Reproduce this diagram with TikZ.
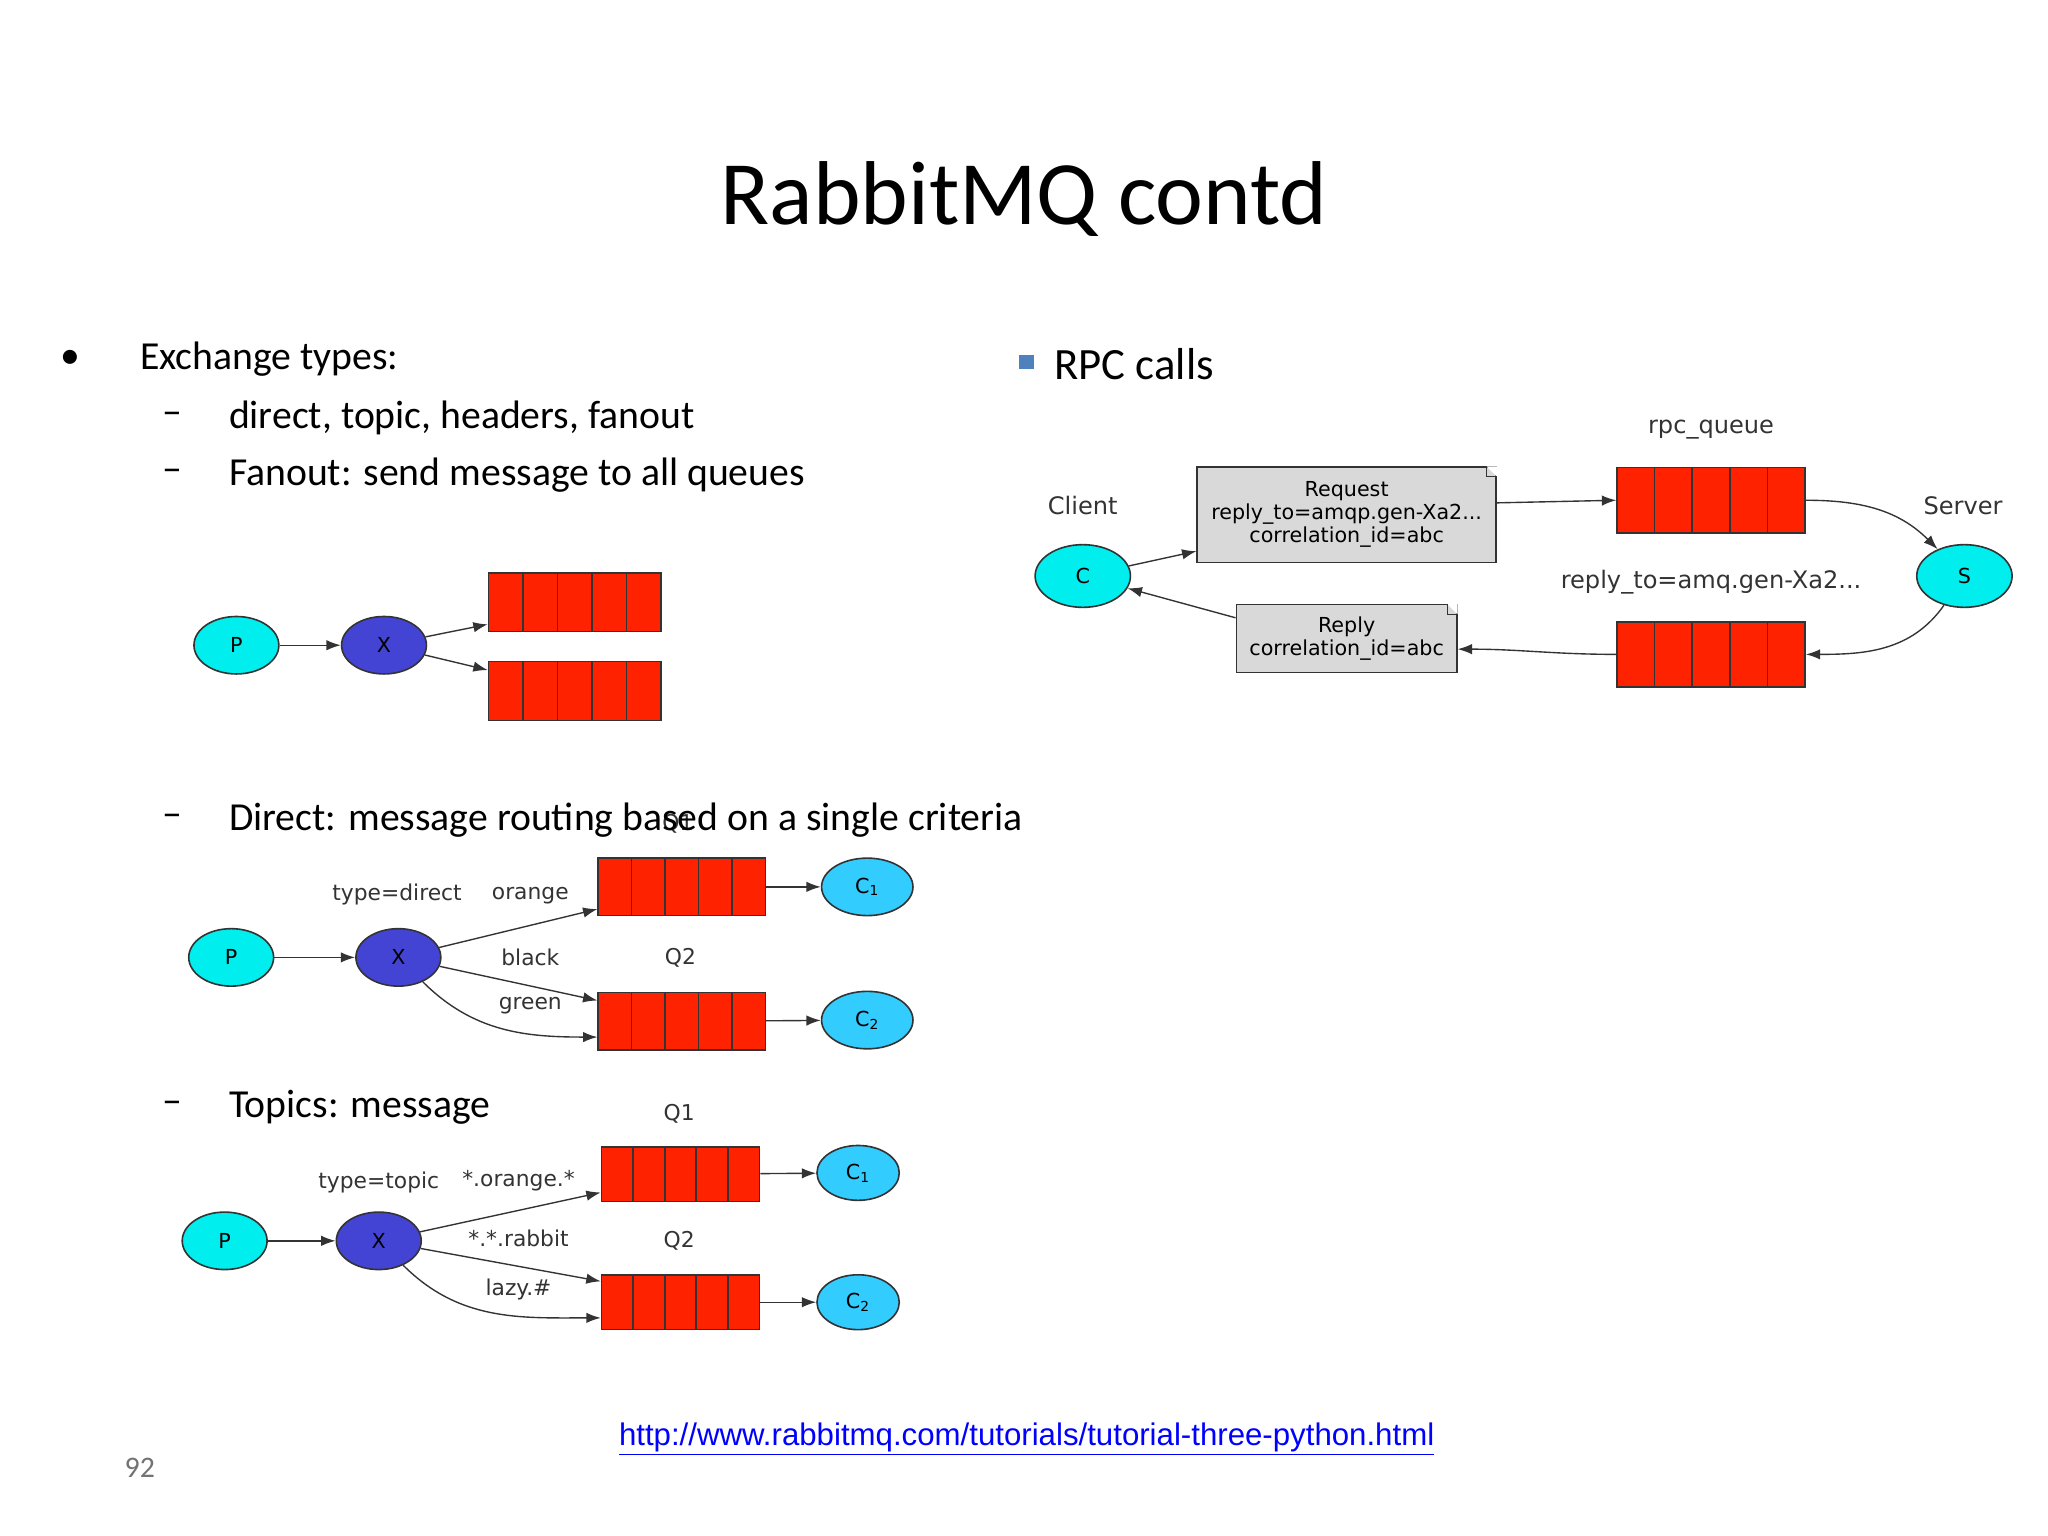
\documentclass[tikz,border=0pt]{standalone}
\usepackage{fontspec}
\setmainfont{Carlito}
\newfontfamily\djsans{DejaVu Sans}
\newfontfamily\libsans{Liberation Sans}
\usetikzlibrary{shapes.geometric,calc,arrows.meta,shapes.misc}
\definecolor{qred}{HTML}{FF2200}
\definecolor{xblue}{HTML}{4444D4}
\definecolor{pcyan}{HTML}{00EEEE}
\definecolor{ccyan}{HTML}{33CCFF}
\definecolor{bul}{HTML}{4F81BD}
\tikzset{
 ell/.style={ellipse,draw=black!80,line width=0.7pt,minimum width=1.3cm,minimum height=0.88cm,inner sep=0pt,font=\djsans\fontsize{9}{9}\selectfont},
 pn/.style={ell,fill=pcyan},
 xn/.style={ell,fill=xblue},
 cn/.style={ell,fill=ccyan,minimum width=1.4cm},
 queue/.style={rectangle,draw=black!80,fill=qred,line width=0.7pt,inner sep=0pt,
   path picture={\foreach \i in {1,...,4}{\draw[black!80,line width=0.7pt]
     ($(path picture bounding box.south west)!\i/5!(path picture bounding box.south east)$) --
     ($(path picture bounding box.north west)!\i/5!(path picture bounding box.north east)$);}}},
 lab/.style={font=\djsans\fontsize{9.5}{10}\selectfont,text=black!80,inner sep=1pt},
 arr/.style={-{Latex[length=2.2mm,width=1.6mm]},line width=0.6pt,black!80},
 note/.style={draw=black!80,fill=black!15,line width=0.6pt,font=\djsans\fontsize{9}{10}\selectfont,align=center,inner sep=2pt},
 txt/.style={anchor=west,font=\fontsize{17.3}{20}\selectfont,inner sep=0pt},
}
\begin{document}
\begin{tikzpicture}[x=0.02cm,y=-0.02cm]
\useasboundingbox (0,0) rectangle (1568,1176);
\fill[white] (0,0) rectangle (1568,1176);
\node[font=\fontsize{39.5}{42}\selectfont] (title) at (784,152) {RabbitMQ contd};
\node[txt] (b1) at (46,275) {•};
\node[txt] (t1) at (107,275) {Exchange types:};
\node[txt] (d1) at (124,320) {–};
\node[txt] (t2) at (175,320) {direct, topic, headers, fanout};
\node[txt] (d2) at (124,364) {–};
\node[txt] (t3) at (175,364) {Fanout: send message to all queues};
\node[fill=bul,minimum size=0.22cm,inner sep=0pt] (b2) at (786,277) {};
\node[txt,font=\fontsize{19.5}{22}\selectfont] (t4) at (807,279) {RPC calls};
% fanout
\node[pn] (fp) at (181,494) {P};
\node[xn] (fx) at (294,494) {X};
\node[queue,minimum width=2.64cm,minimum height=0.9cm] (fq1) at (440,461) {};
\node[queue,minimum width=2.64cm,minimum height=0.9cm] (fq2) at (440,529) {};
\draw[arr] (fp) -- (fx);
\draw[arr] (fx) -- ($(fq1.west)+(0,17)$);
\draw[arr] (fx) -- ($(fq2.west)+(0,-16)$);
% direct
\node[lab] (dq1l) at (519,631) {Q1};
\node[txt] (d3) at (124,628) {–};
\node[txt] (t5) at (175,628) {Direct: message routing based on a single criteria};
\node[pn] (dp) at (177,733) {P};
\node[xn] (dx) at (305,733) {X};
\node[queue,minimum width=2.56cm,minimum height=0.88cm] (dq1) at (522,679) {};
\node[queue,minimum width=2.56cm,minimum height=0.88cm] (dq2) at (522,782) {};
\node[cn] (dc1) at (664,679) {C\textsubscript{1}};
\node[cn] (dc2) at (664,781) {C\textsubscript{2}};
\node[lab] at (304,685) {type=direct};
\node[lab] at (406,686) {orange};
\node[lab] at (406,733) {black};
\node[lab] at (521,733) {Q2};
\node[lab] at (406,770) {green};
\draw[arr] (dp) -- (dx);
\draw[arr] (dx) -- ($(dq1.west)+(0,17)$);
\draw[arr] (dx) -- ($(dq2.west)+(0,-16)$);
\draw[arr] (dx) to[out=-45,in=180] ($(dq2.west)+(0,12)$);
\draw[arr] (dq1) -- (dc1);
\draw[arr] (dq2) -- (dc2);
% topic
\node[txt] (d4) at (124,848) {–};
\node[txt] (t6) at (175,848) {Topics: message};
\node[pn] (tp) at (172,950) {P};
\node[xn] (tx) at (290,950) {X};
\node[queue,minimum width=2.42cm,minimum height=0.84cm] (tq1) at (521,899) {};
\node[queue,minimum width=2.42cm,minimum height=0.84cm] (tq2) at (521,997) {};
\node[cn,minimum width=1.26cm,minimum height=0.84cm] (tc1) at (657,898) {C\textsubscript{1}};
\node[cn,minimum width=1.26cm,minimum height=0.84cm] (tc2) at (657,997) {C\textsubscript{2}};
\node[lab] at (520,853) {Q1};
\node[lab] at (290,905) {type=topic};
\node[lab] at (397,904) {*.orange.*};
\node[lab] at (397,948) {*.*.rabbit};
\node[lab] at (520,950) {Q2};
\node[lab] at (397,987) {lazy.\#};
\draw[arr] (tp) -- (tx);
\draw[arr] (tx) -- ($(tq1.west)+(0,14)$);
\draw[arr] (tx) -- ($(tq2.west)+(0,-16)$);
\draw[arr] (tx) to[out=-45,in=180] ($(tq2.west)+(0,12)$);
\draw[arr] (tq1) -- (tc1);
\draw[arr] (tq2) -- (tc2);
% rpc
\node[pn,minimum width=1.46cm,minimum height=0.96cm] (rc) at (829,441) {C};
\node[pn,minimum width=1.46cm,minimum height=0.96cm] (rs) at (1504,441) {S};
\node[queue,minimum width=2.88cm,minimum height=1.0cm] (rq1) at (1310,383) {};
\node[queue,minimum width=2.88cm,minimum height=1.0cm] (rq2) at (1310,501) {};
\node[note,minimum width=4.58cm,minimum height=1.46cm] (req) at (1031,394) {Request\\reply\_to=amqp.gen-Xa2...\\correlation\_id=abc};
\node[note,minimum width=3.38cm,minimum height=1.04cm] (rep) at (1031,489) {Reply\\correlation\_id=abc};
\fill[white] (req.north east) -- ++(-8,0) -- ++(8,8) -- cycle;
\draw[black!80,line width=0.6pt] ($(req.north east)+(-8,0)$) -- ++(0,8) -- ++(8,0);
\fill[white] (rep.north east) -- ++(-8,0) -- ++(8,8) -- cycle;
\draw[black!80,line width=0.6pt] ($(rep.north east)+(-8,0)$) -- ++(0,8) -- ++(8,0);
\node[lab,font=\djsans\fontsize{10.5}{11}\selectfont] at (829,387) {Client};
\node[lab,font=\djsans\fontsize{10.5}{11}\selectfont] at (1503,387) {Server};
\node[lab,font=\djsans\fontsize{10.5}{11}\selectfont] at (1310,329) {rpc\_queue};
\node[lab,font=\djsans\fontsize{10.5}{11}\selectfont] at (1310,446) {reply\_to=amq.gen-Xa2...};
\draw[arr] (rc) -- ($(req.west)+(0,28)$);
\draw[arr] ($(req.east)+(0,-9)$) -- (rq1.west);
\draw[arr] (rq1.east) to[out=0,in=135] (rs);
\draw[arr] (rs) to[out=-125,in=0] (rq2.east);
\draw[arr] (rq2.west) to[out=180,in=0] ($(rep.east)+(0,8)$);
\draw[arr] ($(rep.west)+(0,-16)$) -- (rc);
% footer
\node[font=\fontsize{13}{14}\selectfont,text=black!55] (pg) at (107,1124) {92};
\node[font=\libsans\fontsize{13.6}{14}\selectfont,text=blue] (url) at (786,1102) {\underline{http://www.rabbitmq.com/tutorials/tutorial-three-python.html}};
\end{tikzpicture}
\end{document}
